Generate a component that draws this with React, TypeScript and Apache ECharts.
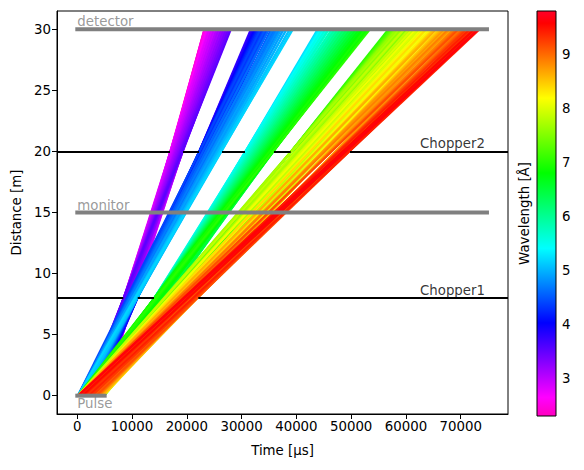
import React, { useEffect, useRef } from "react";
import * as echarts from "echarts";

// ---------- axes ----------
const TIME_TICKS = [0, 10000, 20000, 30000, 40000, 50000, 60000, 70000];
const DISTANCE_TICKS = [0, 5, 10, 15, 20, 25, 30];
const WAVELENGTH_TICKS = [3, 4, 5, 6, 7, 8, 9];
const WAVELENGTH_RANGE = [2.3, 9.8];
const TIME_RANGE = [-3706, 78640];
const DISTANCE_RANGE = [-1.5, 31.5];

// ---------- beamline components ----------
const PULSE_TIME = [0, 5000];
const DETECTOR_DISTANCE = 30;
const MONITOR_DISTANCE = 15;
const COMPONENT_TIME = [0, 74800];
const CHOPPER_NAMES = ["Chopper1", "Chopper2"];
const CHOPPER_DISTANCES = [8, 20];
const CHOPPER1_OPEN = [[8400, 11030], [14000, 22090]];
const CHOPPER2_OPEN = [[16925, 19300], [22220, 26420], [30620, 35910], [38960, 49790]];
const CHOPPER_LABEL_TIME = 74440;

// neutron flight time per metre per Ångström (µs)
const US_PER_M_PER_ANGSTROM = 252.78;

// ---------- neutron rays reaching the detector: emission time [µs] and wavelength [Å] ----------
const RAYS_A_START = [
  4850, 4950, 4450, 4700, 4950, 4050, 4400, 4800, 3650, 4100, 4600, 4950,
  3250, 3800, 4300, 4850, 2850, 3400, 4000, 4700, 2650, 3200, 3900, 4600,
  2500, 3100, 3700, 4250, 2350, 2900, 3500, 3850, 2150, 2700, 3400,
  2000, 2500, 3050, 1850, 2300, 2650, 1700, 2200, 1500, 1850, 1350,
];
const RAYS_A_WAVELENGTH = [
  2.42, 2.41, 2.48, 2.49, 2.47, 2.56, 2.55, 2.57, 2.64, 2.63, 2.65, 2.64,
  2.72, 2.71, 2.73, 2.72, 2.8, 2.81, 2.79, 2.8, 2.88, 2.87, 2.89, 2.88,
  2.96, 2.97, 2.95, 2.96, 3.04, 3.03, 3.05, 3.04, 3.12, 3.13, 3.11,
  3.2, 3.21, 3.19, 3.28, 3.27, 3.29, 3.36, 3.35, 3.44, 3.43, 3.52,
];

const RAYS_B_START = [
  3460, 3050, 3300, 2550, 2850, 3100, 2050, 2450, 2900,
  1550, 2000, 2400, 2700, 1050, 1500, 2000, 2500, 550, 1100, 1700, 2300,
  100, 700, 1300, 2050, 200, 800, 1400, 1850, 150, 700, 1200, 1650,
  100, 600, 1100, 1450, 250, 750, 1250, 100, 550, 1050, 300, 850, 150, 550, 100,
];
const RAYS_B_WAVELENGTH = [
  3.72, 3.8, 3.8, 3.9, 3.9, 3.9, 4.0, 4.0, 4.0,
  4.1, 4.1, 4.1, 4.1, 4.2, 4.2, 4.2, 4.2, 4.3, 4.3, 4.3, 4.3,
  4.4, 4.4, 4.4, 4.4, 4.5, 4.5, 4.5, 4.5, 4.6, 4.6, 4.6, 4.6,
  4.7, 4.7, 4.7, 4.7, 4.8, 4.8, 4.8, 4.9, 4.9, 4.9, 5.0, 5.0, 5.1, 5.1, 5.18,
];

const RAYS_C_START = [
  4300, 4800, 3800, 4400, 4950, 3300, 3900, 4500,
  2900, 3500, 4100, 4800, 2700, 3300, 4000, 4700, 2500, 3200, 3900, 4600,
  2300, 3000, 3800, 4500, 2100, 2900, 3600, 4400, 1900, 2700, 3500, 4300,
  1700, 2500, 3400, 4200, 1500, 2300, 3100, 3900, 1300, 2100, 2900, 3700,
  1100, 1900, 2700, 3300, 900, 1600, 2300, 2850, 700, 1400, 2000,
  500, 1100, 1800, 300, 900, 1350, 100, 700, 200,
];
const RAYS_C_WAVELENGTH = [
  5.22, 5.22, 5.32, 5.32, 5.32, 5.42, 5.42, 5.42,
  5.52, 5.52, 5.52, 5.52, 5.62, 5.62, 5.62, 5.62, 5.72, 5.72, 5.72, 5.72,
  5.82, 5.82, 5.82, 5.82, 5.92, 5.92, 5.92, 5.92, 6.02, 6.02, 6.02, 6.02,
  6.12, 6.12, 6.12, 6.12, 6.22, 6.22, 6.22, 6.22, 6.32, 6.32, 6.32, 6.32,
  6.42, 6.42, 6.42, 6.42, 6.52, 6.52, 6.52, 6.52, 6.62, 6.62, 6.62,
  6.72, 6.72, 6.72, 6.82, 6.82, 6.82, 6.92, 6.92, 7.02,
];

const RAYS_D_START = [
  3550, 4300, 4950, 3050, 3700, 4400, 2550, 3300, 4100, 4850,
  2050, 2800, 3600, 4500, 1550, 2400, 3300, 4200, 1000, 1900, 2900, 3900, 4800,
  500, 1500, 2600, 3600, 4600, 200, 1200, 2300, 3400, 4500,
  100, 1000, 2000, 3000, 4000, 4900, 600, 1700, 2800, 3800, 4700,
  300, 1300, 2400, 3500, 4600, 800, 1900, 3000, 4200, 200, 1400, 2500, 3700, 4800,
  700, 1800, 3000, 4300, 100, 1200, 2400, 3600, 4500, 600, 1700, 2900, 4100,
  300, 1300, 2500, 3900, 800, 1900, 3000, 3700, 200, 1300, 2500, 3400,
  700, 1700, 2700, 300, 1200, 2100, 150, 900, 100,
];
const RAYS_D_WAVELENGTH = [
  7.02, 7.02, 7.02, 7.12, 7.12, 7.12, 7.22, 7.22, 7.22, 7.22,
  7.32, 7.32, 7.32, 7.32, 7.42, 7.42, 7.42, 7.42, 7.52, 7.52, 7.52, 7.52, 7.52,
  7.62, 7.62, 7.62, 7.62, 7.62, 7.72, 7.72, 7.72, 7.72, 7.72,
  7.85, 7.85, 7.85, 7.85, 7.85, 7.85, 7.98, 7.98, 7.98, 7.98, 7.98,
  8.11, 8.11, 8.11, 8.11, 8.11, 8.24, 8.24, 8.24, 8.24, 8.37, 8.37, 8.37, 8.37, 8.37,
  8.5, 8.5, 8.5, 8.5, 8.63, 8.63, 8.63, 8.63, 8.63, 8.76, 8.76, 8.76, 8.76,
  8.89, 8.89, 8.89, 8.89, 9.02, 9.02, 9.02, 9.02, 9.15, 9.15, 9.15, 9.15,
  9.28, 9.28, 9.28, 9.41, 9.41, 9.41, 9.54, 9.54, 9.64,
];

// ---------- colormap (gist_rainbow_r) ----------
const CMAP: [number, number[]][] = [
  [0.0, [255, 0, 191]],
  [0.046, [255, 0, 255]],
  [0.23, [0, 0, 255]],
  [0.414, [0, 255, 255]],
  [0.6, [0, 255, 0]],
  [0.785, [255, 255, 0]],
  [0.97, [255, 0, 0]],
  [1.0, [255, 0, 41]],
];

function cmapColor(f: number): string {
  const v = Math.max(0, Math.min(1, f));
  for (let i = 1; i < CMAP.length; i++) {
    const [p1, c1] = CMAP[i];
    const [p0, c0] = CMAP[i - 1];
    if (v <= p1) {
      const t = (v - p0) / (p1 - p0);
      const c = c0.map((a, k) => Math.round(a + (c1[k] - a) * t));
      return `rgb(${c[0]},${c[1]},${c[2]})`;
    }
  }
  const c = CMAP[CMAP.length - 1][1];
  return `rgb(${c[0]},${c[1]},${c[2]})`;
}

function wavelengthColor(wl: number): string {
  return cmapColor((wl - WAVELENGTH_RANGE[0]) / (WAVELENGTH_RANGE[1] - WAVELENGTH_RANGE[0]));
}

const FONT = "DejaVu Sans";
const FS = 13.33;
const plain = (v: number) => String(v);

export default function App() {
  const ref = useRef<HTMLDivElement>(null);

  useEffect(() => {
    if (!ref.current) return;
    const chart = echarts.init(ref.current, undefined, { renderer: "svg" });

    const bands: [number[], number[]][] = [
      [RAYS_A_START, RAYS_A_WAVELENGTH],
      [RAYS_B_START, RAYS_B_WAVELENGTH],
      [RAYS_C_START, RAYS_C_WAVELENGTH],
      [RAYS_D_START, RAYS_D_WAVELENGTH],
    ];
    const rayData: any[] = [];
    bands.forEach(([starts, wls]) => {
      starts.forEach((t0, i) => {
        const arrival = t0 + DETECTOR_DISTANCE * wls[i] * US_PER_M_PER_ANGSTROM;
        rayData.push({
          coords: [[t0, 0], [arrival, DETECTOR_DISTANCE]],
          lineStyle: { color: wavelengthColor(wls[i]) },
        });
      });
    });

    const chopperSegments: any[] = [];
    [CHOPPER1_OPEN, CHOPPER2_OPEN].forEach((open, ci) => {
      const d = CHOPPER_DISTANCES[ci];
      let prev = TIME_RANGE[0];
      open.forEach(([a, b]) => {
        chopperSegments.push({ coords: [[prev, d], [a, d]] });
        prev = b;
      });
      chopperSegments.push({ coords: [[prev, d], [TIME_RANGE[1], d]] });
    });

    const grayLine = (y: number, x0: number, x1: number) => ({
      type: "line",
      xAxisIndex: 0,
      yAxisIndex: 0,
      data: [[x0, y], [x1, y]],
      symbol: "none",
      silent: true,
      z: 5,
      lineStyle: { color: "#808080", width: 4, cap: "square" },
    });

    const textSeries = (x: number, y: number, text: string, color: string, align: string, vAlign: string, dy: number) => ({
      type: "scatter",
      xAxisIndex: 0,
      yAxisIndex: 0,
      data: [[x, y]],
      symbolSize: 0,
      silent: true,
      z: 6,
      label: {
        show: true,
        formatter: text,
        position: [0, dy],
        align,
        verticalAlign: vAlign,
        color,
        fontFamily: FONT,
        fontSize: FS,
      },
    });

    const option: any = {
      animation: false,
      backgroundColor: "#ffffff",
      textStyle: { fontFamily: FONT },
      grid: [
        { left: 57, top: 11, width: 451, height: 403, show: true, borderColor: "#000", borderWidth: 1, backgroundColor: "transparent" },
        { left: 537, top: 11, width: 19, height: 405, show: false },
      ],
      xAxis: [
        {
          type: "value",
          gridIndex: 0,
          min: TIME_RANGE[0],
          max: TIME_RANGE[1],
          name: "Time [µs]",
          nameLocation: "middle",
          nameGap: 30,
          nameTextStyle: { color: "#000", fontFamily: FONT, fontSize: FS },
          axisLine: { show: true, onZero: false, lineStyle: { color: "#000", width: 1 } },
          axisTick: { show: true, length: 5, customValues: TIME_TICKS, lineStyle: { color: "#000" } },
          axisLabel: { show: true, customValues: TIME_TICKS, formatter: plain, color: "#000", fontFamily: FONT, fontSize: FS, margin: 6 },
          splitLine: { show: false },
        },
        { type: "value", gridIndex: 1, min: 0, max: 1, show: false },
      ],
      yAxis: [
        {
          type: "value",
          gridIndex: 0,
          min: DISTANCE_RANGE[0],
          max: DISTANCE_RANGE[1],
          name: "Distance [m]",
          nameLocation: "middle",
          nameGap: 33,
          nameTextStyle: { color: "#000", fontFamily: FONT, fontSize: FS },
          axisLine: { show: true, onZero: false, lineStyle: { color: "#000", width: 1 } },
          axisTick: { show: true, length: 5, customValues: DISTANCE_TICKS, lineStyle: { color: "#000" } },
          axisLabel: { show: true, customValues: DISTANCE_TICKS, formatter: plain, color: "#000", fontFamily: FONT, fontSize: FS, margin: 6 },
          splitLine: { show: false },
        },
        {
          type: "value",
          gridIndex: 1,
          min: WAVELENGTH_RANGE[0],
          max: WAVELENGTH_RANGE[1],
          position: "right",
          axisLine: { show: false },
          axisTick: { show: true, length: 5, customValues: WAVELENGTH_TICKS, lineStyle: { color: "#000" } },
          axisLabel: { show: true, customValues: WAVELENGTH_TICKS, formatter: plain, color: "#000", fontFamily: FONT, fontSize: FS, margin: 6 },
          splitLine: { show: false },
        },
        {
          type: "value",
          gridIndex: 1,
          min: WAVELENGTH_RANGE[0],
          max: WAVELENGTH_RANGE[1],
          position: "left",
          name: "Wavelength [Å]",
          nameLocation: "middle",
          nameGap: 6,
          nameTextStyle: { color: "#000", fontFamily: FONT, fontSize: FS },
          axisLine: { show: false },
          axisTick: { show: false },
          axisLabel: { show: false },
          splitLine: { show: false },
        },
      ],
      series: [
        {
          type: "lines",
          coordinateSystem: "cartesian2d",
          xAxisIndex: 0,
          yAxisIndex: 0,
          data: rayData,
          silent: true,
          z: 2,
          lineStyle: { width: 2, opacity: 1 },
        },
        {
          type: "lines",
          coordinateSystem: "cartesian2d",
          xAxisIndex: 0,
          yAxisIndex: 0,
          data: chopperSegments,
          silent: true,
          z: 4,
          lineStyle: { width: 2, opacity: 1, color: "#000" },
        },
        grayLine(DETECTOR_DISTANCE, COMPONENT_TIME[0], COMPONENT_TIME[1]),
        grayLine(MONITOR_DISTANCE, COMPONENT_TIME[0], COMPONENT_TIME[1]),
        grayLine(0, PULSE_TIME[0], PULSE_TIME[1]),
        textSeries(COMPONENT_TIME[0], DETECTOR_DISTANCE, "detector", "#808080", "left", "bottom", -1),
        textSeries(COMPONENT_TIME[0], MONITOR_DISTANCE, "monitor", "#808080", "left", "bottom", -1),
        textSeries(PULSE_TIME[0], 0, "Pulse", "#808080", "left", "top", 1),
        textSeries(CHOPPER_LABEL_TIME, CHOPPER_DISTANCES[0], CHOPPER_NAMES[0], "#000", "right", "bottom", -1),
        textSeries(CHOPPER_LABEL_TIME, CHOPPER_DISTANCES[1], CHOPPER_NAMES[1], "#000", "right", "bottom", -1),
        {
          type: "custom",
          xAxisIndex: 1,
          yAxisIndex: 1,
          silent: true,
          data: [[0, WAVELENGTH_RANGE[0]]],
          renderItem: (_params: any, api: any) => {
            const p0 = api.coord([0, WAVELENGTH_RANGE[1]]);
            const p1 = api.coord([1, WAVELENGTH_RANGE[0]]);
            return {
              type: "rect",
              shape: { x: p0[0], y: p0[1], width: p1[0] - p0[0], height: p1[1] - p0[1] },
              style: {
                fill: new echarts.graphic.LinearGradient(
                  0, 1, 0, 0,
                  CMAP.map(([offset, c]) => ({ offset, color: `rgb(${c[0]},${c[1]},${c[2]})` }))
                ),
                stroke: "#000",
                lineWidth: 1,
              },
            };
          },
        },
      ],
    };

    chart.setOption(option);
    return () => chart.dispose();
  }, []);

  return (
    <div
      ref={ref}
      style={{ position: "fixed", left: 0, top: 0, width: 584, height: 470, background: "#fff" }}
    />
  );
}
